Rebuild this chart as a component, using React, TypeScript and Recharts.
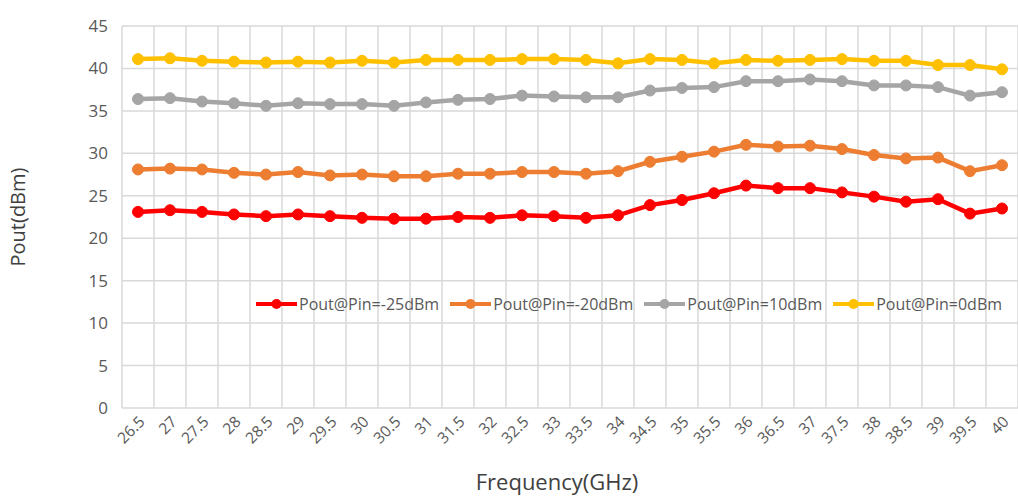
import { LineChart, Line, XAxis, YAxis, CartesianGrid, Legend } from 'recharts';

const FONT = '"Open Sans", "Noto Sans", sans-serif';

// frequency points (GHz)
const freqs = [
  26.5, 27, 27.5, 28, 28.5, 29, 29.5, 30, 30.5, 31, 31.5, 32, 32.5, 33,
  33.5, 34, 34.5, 35, 35.5, 36, 36.5, 37, 37.5, 38, 38.5, 39, 39.5, 40,
];

const pinMinus25 = [
  23.1, 23.3, 23.1, 22.8, 22.6, 22.8, 22.6, 22.4, 22.3, 22.3, 22.5, 22.4, 22.7, 22.6,
  22.4, 22.7, 23.9, 24.5, 25.3, 26.2, 25.9, 25.9, 25.4, 24.9, 24.3, 24.6, 22.9, 23.5,
];

const pinMinus20 = [
  28.1, 28.2, 28.1, 27.7, 27.5, 27.8, 27.4, 27.5, 27.3, 27.3, 27.6, 27.6, 27.8, 27.8,
  27.6, 27.9, 29.0, 29.6, 30.2, 31.0, 30.8, 30.9, 30.5, 29.8, 29.4, 29.5, 27.9, 28.6,
];

const pin10 = [
  36.4, 36.5, 36.1, 35.9, 35.6, 35.9, 35.8, 35.8, 35.6, 36.0, 36.3, 36.4, 36.8, 36.7,
  36.6, 36.6, 37.4, 37.7, 37.8, 38.5, 38.5, 38.7, 38.5, 38.0, 38.0, 37.8, 36.8, 37.2,
];

const pin0 = [
  41.1, 41.2, 40.9, 40.8, 40.7, 40.8, 40.7, 40.9, 40.7, 41.0, 41.0, 41.0, 41.1, 41.1,
  41.0, 40.6, 41.1, 41.0, 40.6, 41.0, 40.9, 41.0, 41.1, 40.9, 40.9, 40.4, 40.4, 39.9,
];

const yTicks = [0, 5, 10, 15, 20, 25, 30, 35, 40, 45];

const SERIES = [
  { key: 'm25', name: 'Pout@Pin=-25dBm', color: '#FF0000' },
  { key: 'm20', name: 'Pout@Pin=-20dBm', color: '#ED7D31' },
  { key: 'p10', name: 'Pout@Pin=10dBm', color: '#A5A5A5' },
  { key: 'p0', name: 'Pout@Pin=0dBm', color: '#FFC000' },
];

const data = freqs.map((f, i) => ({
  freq: f,
  m25: pinMinus25[i],
  m20: pinMinus20[i],
  p10: pin10[i],
  p0: pin0[i],
}));

// category boundaries for the vertical gridlines (Excel style, between points)
const half = (freqs[1] - freqs[0]) / 2;
const gridTicks = [...freqs.map((f) => f - half), freqs[freqs.length - 1] + half];
const xDomain = [gridTicks[0], gridTicks[gridTicks.length - 1]];

const renderLegend = () => (
  <div
    style={{
      display: 'flex',
      alignItems: 'center',
      fontFamily: FONT,
      fontSize: 16,
      color: '#595959',
      whiteSpace: 'nowrap',
    }}
  >
    {SERIES.map((s) => (
      <div key={s.key} style={{ display: 'flex', alignItems: 'center', marginRight: 11 }}>
        <svg width={41} height={12}>
          <line x1={0} x2={41} y1={6} y2={6} stroke={s.color} strokeWidth={4} />
          <circle cx={20.5} cy={6} r={5} fill={s.color} />
        </svg>
        <span style={{ marginLeft: 2 }}>{s.name}</span>
      </div>
    ))}
  </div>
);

export default function App() {
  return (
    <div style={{ position: 'fixed', left: 0, top: 0, background: '#fff' }}>
      <LineChart
        width={1018}
        height={502}
        data={data}
        margin={{ top: 26, right: 0, bottom: 6, left: 12 }}
      >
        <CartesianGrid
          xAxisId="grid"
          stroke="#D9D9D9"
          strokeWidth={1.5}
          horizontal
          vertical
        />
        <XAxis
          xAxisId="grid"
          dataKey="freq"
          type="number"
          domain={xDomain}
          ticks={gridTicks}
          interval={0}
          hide
        />
        <XAxis
          dataKey="freq"
          type="number"
          domain={xDomain}
          ticks={freqs}
          interval={0}
          height={88}
          axisLine={false}
          tickLine={false}
          tickSize={0}
          tickMargin={7}
          angle={-45}
          textAnchor="end"
          tick={{ fill: '#595959', fontSize: 15.5, fontFamily: FONT }}
          label={{
            value: 'Frequency(GHz)',
            position: 'insideBottom',
            offset: 6,
            dx: -13,
            style: { fill: '#404040', fontSize: 22, fontFamily: FONT },
          }}
        />
        <YAxis
          domain={[0, 45]}
          ticks={yTicks}
          width={110}
          axisLine={false}
          tickLine={false}
          tickSize={0}
          tickMargin={14}
          tick={{ fill: '#595959', fontSize: 17, fontFamily: FONT }}
          label={{
            value: 'Pout(dBm)',
            angle: -90,
            position: 'insideLeft',
            offset: 6,
            style: { fill: '#404040', fontSize: 20, fontFamily: FONT, textAnchor: 'middle' },
          }}
        />
        <Legend
          layout="horizontal"
          verticalAlign="middle"
          align="center"
          content={renderLegend}
          wrapperStyle={{ left: 256, top: 293, width: 'auto' }}
        />
        {SERIES.map((s) => (
          <Line
            key={s.key}
            dataKey={s.key}
            name={s.name}
            stroke={s.color}
            strokeWidth={4.5}
            dot={{ r: 5.5, fill: s.color, stroke: s.color, strokeWidth: 1 }}
            activeDot={false}
            isAnimationActive={false}
          />
        ))}
      </LineChart>
    </div>
  );
}
